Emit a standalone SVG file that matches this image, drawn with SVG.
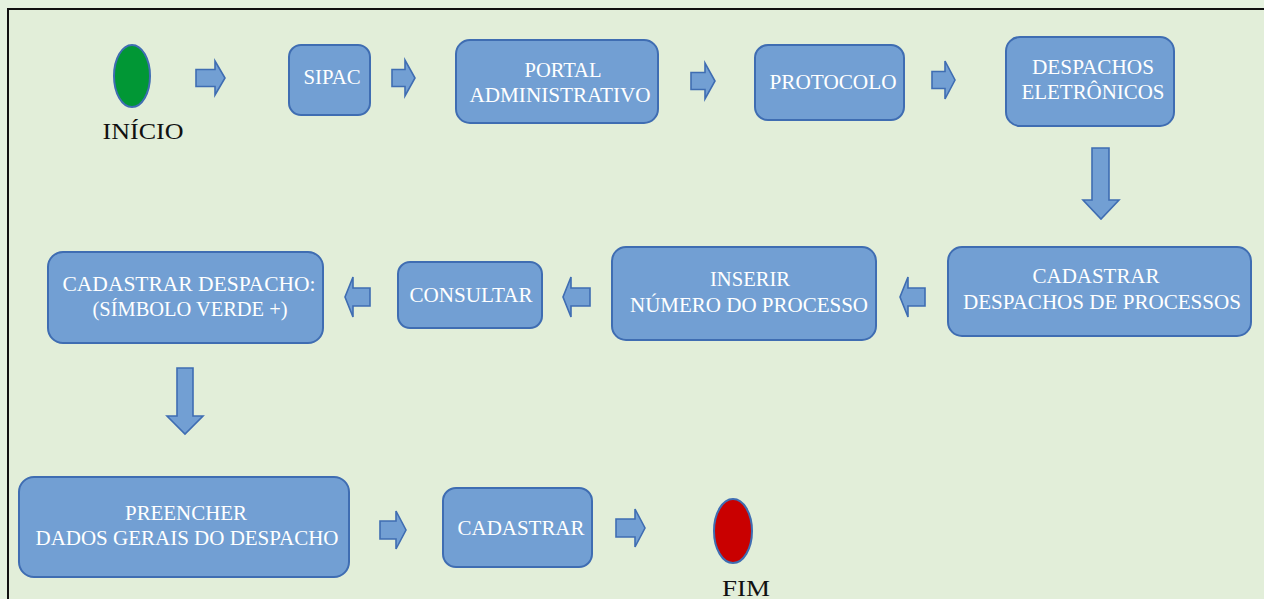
<svg xmlns="http://www.w3.org/2000/svg" width="1264" height="599" viewBox="0 0 1264 599">
<style>
.box{fill:#729fd3;stroke:#3f6db2;stroke-width:2}
.arr{fill:#729fd3;stroke:#3f6db2;stroke-width:1.6;stroke-linejoin:miter}
.t{font-family:"Liberation Serif","Times New Roman",serif;font-size:20px;fill:#ffffff;text-anchor:middle}
.k{font-family:"Liberation Serif","Times New Roman",serif;font-size:23px;fill:#111111;text-anchor:middle}
</style>
<rect x="0" y="0" width="1264" height="599" fill="#e5f2df"/>
<rect x="8" y="9" width="1256" height="590" fill="#e2eed9"/>
<path d="M8 599 V9 H1264" fill="none" stroke="#111" stroke-width="2"/>

<g id="inicio">
<ellipse cx="132" cy="76" rx="18" ry="31" fill="#019735" stroke="#3f6db2" stroke-width="2"/>
<text class="k" x="143" y="139" textLength="81" lengthAdjust="spacingAndGlyphs">INÍCIO</text>
</g>
<g id="sipac">
<rect class="box" x="289" y="45" width="81" height="70" rx="12"/>
<text class="t" x="332" y="84" textLength="57" lengthAdjust="spacingAndGlyphs">SIPAC</text>
</g>
<g id="portal">
<rect class="box" x="456" y="40" width="202" height="83" rx="14"/>
<text class="t" x="563" y="77" textLength="77" lengthAdjust="spacingAndGlyphs">PORTAL</text>
<text class="t" x="560" y="102" textLength="181" lengthAdjust="spacingAndGlyphs">ADMINISTRATIVO</text>
</g>
<g id="protocolo">
<rect class="box" x="755" y="45" width="149" height="75" rx="13"/>
<text class="t" x="833" y="89" textLength="127" lengthAdjust="spacingAndGlyphs">PROTOCOLO</text>
</g>
<g id="despachos">
<rect class="box" x="1006" y="37" width="168" height="89" rx="14"/>
<text class="t" x="1093" y="74" textLength="122" lengthAdjust="spacingAndGlyphs">DESPACHOS</text>
<text class="t" x="1093" y="99" textLength="143" lengthAdjust="spacingAndGlyphs">ELETRÔNICOS</text>
</g>
<g id="cadastrar-despachos">
<rect class="box" x="948" y="247" width="303" height="89" rx="14"/>
<text class="t" x="1096" y="283" textLength="127" lengthAdjust="spacingAndGlyphs">CADASTRAR</text>
<text class="t" x="1102" y="309" textLength="278" lengthAdjust="spacingAndGlyphs">DESPACHOS DE PROCESSOS</text>
</g>
<g id="inserir">
<rect class="box" x="612" y="247" width="264" height="93" rx="14"/>
<text class="t" x="750" y="286" textLength="80" lengthAdjust="spacingAndGlyphs">INSERIR</text>
<text class="t" x="749" y="312" textLength="238" lengthAdjust="spacingAndGlyphs">NÚMERO DO PROCESSO</text>
</g>
<g id="consultar">
<rect class="box" x="398" y="262" width="144" height="66" rx="12"/>
<text class="t" x="471" y="302" textLength="123" lengthAdjust="spacingAndGlyphs">CONSULTAR</text>
</g>
<g id="cadastrar-despacho">
<rect class="box" x="48" y="252" width="275" height="91" rx="15"/>
<text class="t" x="189" y="291" textLength="253" lengthAdjust="spacingAndGlyphs">CADASTRAR DESPACHO:</text>
<text class="t" x="190" y="316" textLength="195" lengthAdjust="spacingAndGlyphs">(SÍMBOLO VERDE +)</text>
</g>
<g id="preencher">
<rect class="box" x="19" y="477" width="330" height="100" rx="15"/>
<text class="t" x="186" y="520" textLength="122" lengthAdjust="spacingAndGlyphs">PREENCHER</text>
<text class="t" x="187" y="545" textLength="303" lengthAdjust="spacingAndGlyphs">DADOS GERAIS DO DESPACHO</text>
</g>
<g id="cadastrar">
<rect class="box" x="443" y="488" width="149" height="79" rx="13"/>
<text class="t" x="521" y="535" textLength="127" lengthAdjust="spacingAndGlyphs">CADASTRAR</text>
</g>
<g id="fim">
<ellipse cx="733" cy="531" rx="19" ry="32" fill="#c90000" stroke="#3f6db2" stroke-width="2"/>
<text class="k" x="746" y="596" textLength="48" lengthAdjust="spacingAndGlyphs">FIM</text>
</g>

<g id="connectors">
<path class="arr" d="M196 69.5 H215 V61 L225 78 L215 95 V86.5 H196 Z"/>
<path class="arr" d="M392 69.5 H405 V60 L415 78 L405 96 V86.5 H392 Z"/>
<path class="arr" d="M691 72.5 H705 V63 L715 81 L705 99 V89.5 H691 Z"/>
<path class="arr" d="M932 71.5 H945 V61 L955 80 L945 99 V88.5 H932 Z"/>
<path class="arr" d="M1092 148 H1109 V200 H1119 L1101 219 L1083 200 H1092 Z"/>
<path class="arr" d="M925 288 H908 V277 L900 297 L908 317 V306 H925 Z"/>
<path class="arr" d="M590 288 H571 V277 L563 297 L571 317 V306 H590 Z"/>
<path class="arr" d="M370 288 H353 V277 L345 297 L353 317 V306 H370 Z"/>
<path class="arr" d="M177 368 H193 V416 H203 L185 434 L167 416 H177 Z"/>
<path class="arr" d="M380 521 H396 V511 L406 530 L396 549 V539 H380 Z"/>
<path class="arr" d="M616 519 H635 V509 L645 528 L635 547 V537 H616 Z"/>
</g>
</svg>
